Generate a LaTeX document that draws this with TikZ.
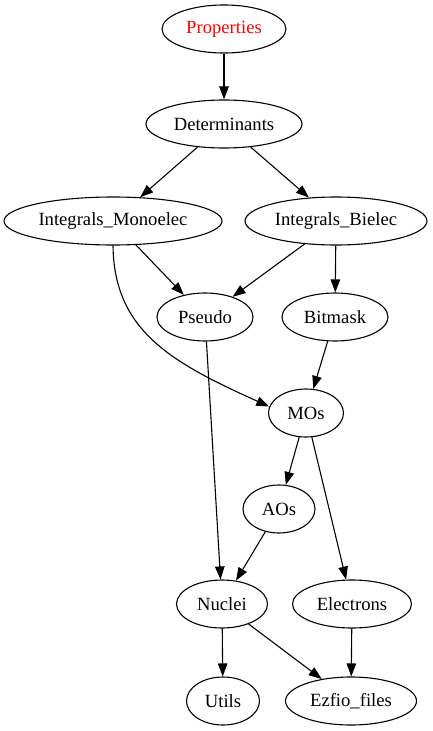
\documentclass[tikz,border=0pt]{standalone}
\usepackage{fontspec}
\setmainfont{Liberation Serif}
\usetikzlibrary{shapes.geometric,arrows.meta}
\definecolor{gvred}{RGB}{255,0,0}
\begin{document}
\begin{tikzpicture}[x=1bp,y=-1bp,
  gnode/.style={ellipse,draw,line width=1.1bp,inner sep=0pt,minimum height=48bp,
    font=\fontsize{18.7}{22}\selectfont},
  gedge/.style={line width=1.1bp,-{Triangle[length=13bp,width=9.5bp]}}]
\useasboundingbox (0,0) rectangle (433,731);
\node[gnode,minimum width=124bp,text=gvred] (prop) at (224,29) {Properties};
\node[gnode,minimum width=156bp] (det) at (224,124) {Determinants};
\node[gnode,minimum width=218bp] (im) at (113,221) {Integrals\_Monoelec};
\node[gnode,minimum width=182bp] (ib) at (336,221) {Integrals\_Bielec};
\node[gnode,minimum width=96bp] (pseudo) at (205,317) {Pseudo};
\node[gnode,minimum width=106bp] (bit) at (335,317) {Bitmask};
\node[gnode,minimum width=75bp] (mos) at (306,413) {MOs};
\node[gnode,minimum width=72bp] (aos) at (279,509) {AOs};
\node[gnode,minimum width=91bp] (nuc) at (222,604) {Nuclei};
\node[gnode,minimum width=119bp] (ele) at (352,604) {Electrons};
\node[gnode,minimum width=73bp] (utils) at (223,701) {Utils};
\node[gnode,minimum width=131bp] (ezf) at (351,701) {Ezfio\_files};
\draw[gedge] (prop) -- (det);
\draw[gedge] (det) -- (im);
\draw[gedge] (det) -- (ib);
\draw[gedge] (im) -- (pseudo);
\draw[gedge] (im.south) .. controls (114,330) and (170,362) .. (mos.170);
\draw[gedge] (ib) -- (pseudo);
\draw[gedge] (ib) -- (bit);
\draw[gedge] (pseudo) -- (nuc);
\draw[gedge] (bit) -- (mos);
\draw[gedge] (mos) -- (aos);
\draw[gedge] (mos) -- (ele);
\draw[gedge] (aos) -- (nuc);
\draw[gedge] (nuc) -- (utils);
\draw[gedge] (nuc) -- (ezf);
\draw[gedge] (ele) -- (ezf);
\end{tikzpicture}
\end{document}
